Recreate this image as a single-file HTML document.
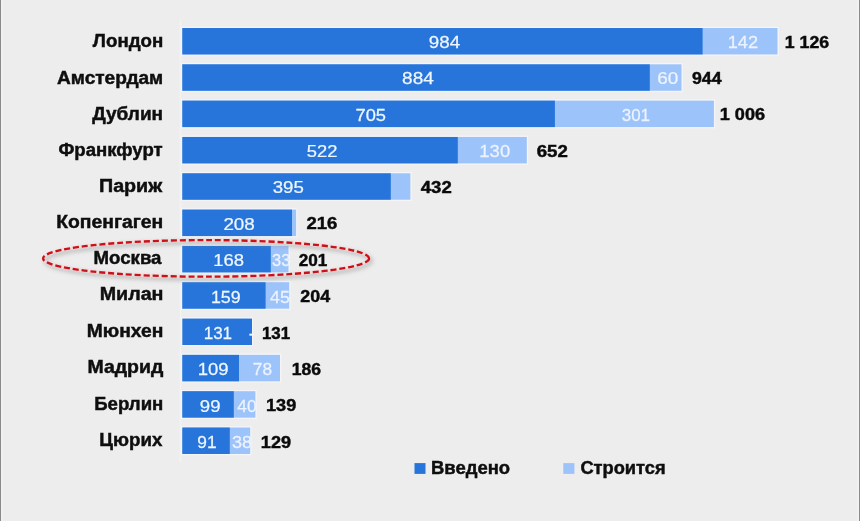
<!DOCTYPE html>
<html lang="ru"><head><meta charset="utf-8"><title>Chart</title>
<style>
html,body{margin:0;padding:0;background:#ededed;}
body{width:860px;height:521px;overflow:hidden;position:relative;}
svg{display:block;position:absolute;left:0;top:0;}
text{font-family:"Liberation Sans",sans-serif;white-space:pre;}
.lab{font-weight:bold;font-size:17.5px;fill:#0e0e0e;stroke:#0e0e0e;stroke-width:0.45px;}
.tot{font-weight:bold;font-size:17.2px;fill:#0a0a0a;word-spacing:0px;stroke:#0a0a0a;stroke-width:0.45px;}
.v1{font-size:17.2px;fill:#eef6ff;stroke:#eef6ff;stroke-width:0.25px;}
.v2{font-size:17.2px;fill:#edf3ff;stroke:#edf3ff;stroke-width:0.25px;}
.leg{font-weight:bold;font-size:17.5px;fill:#0e0e0e;stroke:#0e0e0e;stroke-width:0.45px;}
</style></head><body>
<svg width="860" height="521" viewBox="0 0 860 521">
<defs><filter id="sh" x="-5%" y="-30%" width="110%" height="170%"><feGaussianBlur stdDeviation="2"/></filter></defs>
<rect x="0" y="0" width="860" height="521" fill="#ededed"/>
<rect x="0" y="0" width="2.6" height="521" fill="#f2f2f2"/>
<rect x="0" y="0" width="1" height="521" fill="#8a8a8a"/>
<rect x="857.5" y="0" width="2.5" height="521" fill="#f2f2f2"/>
<rect x="859" y="0" width="1" height="521" fill="#8a8a8a"/>
<rect x="179.6" y="20" width="1.8" height="442" fill="#f2f2f2"/>

<rect x="181.00" y="26.70" width="597.80" height="29.05" fill="#f3f5f9"/>
<rect x="182.30" y="28.00" width="595.20" height="26.45" fill="#9dc3fb"/>
<rect x="182.30" y="28.00" width="520.30" height="26.45" fill="#2775da"/>
<text class="lab" transform="translate(92.87 47.25) scale(1.0682 1)">Лондон</text>
<text class="v1" transform="translate(428.78 47.95) scale(1.0945 1)">984</text>
<text class="v2" transform="translate(727.68 47.95) scale(1.0579 1)">142</text>
<text class="tot" transform="translate(784.73 47.72) scale(1.0323 1)">1 126</text>
<rect x="181.00" y="63.02" width="501.80" height="29.05" fill="#f3f5f9"/>
<rect x="182.30" y="64.32" width="499.20" height="26.45" fill="#9dc3fb"/>
<rect x="182.30" y="64.32" width="467.50" height="26.45" fill="#2775da"/>
<text class="lab" transform="translate(57.03 83.50) scale(1.0909 1)">Амстердам</text>
<text class="v1" transform="translate(402.07 84.31) scale(1.1091 1)">884</text>
<text class="v2" transform="translate(657.17 84.31) scale(1.1042 1)">60</text>
<text class="tot" transform="translate(691.98 84.07) scale(1.0301 1)">944</text>
<rect x="181.00" y="99.34" width="534.20" height="29.05" fill="#f3f5f9"/>
<rect x="182.30" y="100.64" width="531.60" height="26.45" fill="#9dc3fb"/>
<rect x="182.30" y="100.64" width="372.60" height="26.45" fill="#2775da"/>
<text class="lab" transform="translate(92.30 119.80) scale(1.0848 1)">Дублин</text>
<text class="v1" transform="translate(355.50 120.68) scale(1.0642 1)">705</text>
<text class="v2" transform="translate(621.71 120.68) scale(0.9891 1)">301</text>
<text class="tot" transform="translate(719.71 120.42) scale(1.0539 1)">1 006</text>
<rect x="181.00" y="135.66" width="347.10" height="29.05" fill="#f3f5f9"/>
<rect x="182.30" y="136.96" width="344.50" height="26.45" fill="#9dc3fb"/>
<rect x="182.30" y="136.96" width="275.50" height="26.45" fill="#2775da"/>
<text class="lab" transform="translate(58.47 156.00) scale(1.0622 1)">Франкфурт</text>
<text class="v1" transform="translate(306.87 157.05) scale(1.0655 1)">522</text>
<text class="v2" transform="translate(479.36 157.05) scale(1.0741 1)">130</text>
<text class="tot" transform="translate(536.66 156.77) scale(1.0847 1)">652</text>
<rect x="181.00" y="171.98" width="230.70" height="29.05" fill="#f3f5f9"/>
<rect x="182.30" y="173.28" width="228.10" height="26.45" fill="#9dc3fb"/>
<rect x="182.30" y="173.28" width="208.50" height="26.45" fill="#2775da"/>
<text class="lab" transform="translate(98.97 191.90) scale(1.1261 1)">Париж</text>
<text class="v1" transform="translate(272.76 193.41) scale(1.0836 1)">395</text>
<text class="tot" transform="translate(420.80 193.12) scale(1.0796 1)">432</text>
<rect x="181.00" y="208.30" width="116.40" height="29.05" fill="#f3f5f9"/>
<rect x="182.30" y="209.60" width="113.80" height="26.45" fill="#9dc3fb"/>
<rect x="182.30" y="209.60" width="109.70" height="26.45" fill="#2775da"/>
<text class="lab" transform="translate(56.19 228.40) scale(1.1053 1)">Копенгаген</text>
<text class="v1" transform="translate(223.38 229.78) scale(1.0936 1)">208</text>
<text class="tot" transform="translate(306.43 229.47) scale(1.0786 1)">216</text>
<rect x="181.00" y="244.62" width="108.80" height="29.05" fill="#f3f5f9"/>
<rect x="182.30" y="245.92" width="106.20" height="26.45" fill="#9dc3fb"/>
<rect x="182.30" y="245.92" width="88.50" height="26.45" fill="#2775da"/>
<text class="lab" transform="translate(93.53 264.40) scale(1.0656 1)">Москва</text>
<text class="v1" transform="translate(213.16 266.14) scale(1.0729 1)">168</text>
<text class="v2" transform="translate(272.12 266.14) scale(0.9556 1)">33</text>
<text class="tot" transform="translate(298.65 265.82) scale(0.9982 1)">201</text>
<rect x="181.00" y="280.94" width="109.50" height="29.05" fill="#f3f5f9"/>
<rect x="182.30" y="282.24" width="106.90" height="26.45" fill="#9dc3fb"/>
<rect x="182.30" y="282.24" width="83.30" height="26.45" fill="#2775da"/>
<text class="lab" transform="translate(99.68 300.30) scale(1.1233 1)">Милан</text>
<text class="v1" transform="translate(210.91 302.50) scale(1.0355 1)">159</text>
<text class="v2" transform="translate(270.04 302.50) scale(1.0356 1)">45</text>
<text class="tot" transform="translate(300.34 302.17) scale(1.0386 1)">204</text>
<rect x="181.00" y="317.26" width="72.10" height="29.05" fill="#f3f5f9"/>
<rect x="182.30" y="318.56" width="69.70" height="26.45" fill="#2775da"/>
<text class="lab" transform="translate(86.70 336.60) scale(1.0996 1)">Мюнхен</text>
<text class="v1" transform="translate(203.66 338.87) scale(0.9907 1)">131</text>
<text class="v2" transform="translate(248.81 338.87) scale(1.0500 1)">-</text>
<text class="tot" transform="translate(261.96 338.52) scale(0.9838 1)">131</text>
<rect x="181.00" y="353.58" width="100.30" height="29.05" fill="#f3f5f9"/>
<rect x="182.30" y="354.88" width="97.70" height="26.45" fill="#9dc3fb"/>
<rect x="182.30" y="354.88" width="56.70" height="26.45" fill="#2775da"/>
<text class="lab" transform="translate(87.49 372.60) scale(1.1119 1)">Мадрид</text>
<text class="v1" transform="translate(197.65 375.24) scale(1.0766 1)">109</text>
<text class="v2" transform="translate(252.74 375.24) scale(1.0085 1)">78</text>
<text class="tot" transform="translate(291.83 374.87) scale(1.0218 1)">186</text>
<rect x="181.00" y="389.90" width="75.70" height="29.05" fill="#f3f5f9"/>
<rect x="182.30" y="391.20" width="73.10" height="26.45" fill="#9dc3fb"/>
<rect x="182.30" y="391.20" width="51.50" height="26.45" fill="#2775da"/>
<text class="lab" transform="translate(94.24 409.70) scale(1.0635 1)">Берлин</text>
<text class="v1" transform="translate(199.79 411.60) scale(1.0817 1)">99</text>
<text class="v2" transform="translate(237.25 411.60) scale(1.0082 1)">40</text>
<text class="tot" transform="translate(266.01 411.22) scale(1.0545 1)">139</text>
<rect x="181.00" y="426.22" width="70.50" height="29.05" fill="#f3f5f9"/>
<rect x="182.30" y="427.52" width="67.90" height="26.45" fill="#9dc3fb"/>
<rect x="182.30" y="427.52" width="47.50" height="26.45" fill="#2775da"/>
<text class="lab" transform="translate(99.33 445.80) scale(1.0695 1)">Цюрих</text>
<text class="v1" transform="translate(197.34 447.97) scale(1.0085 1)">91</text>
<text class="v2" transform="translate(232.07 447.97) scale(1.0500 1)">38</text>
<text class="tot" transform="translate(260.81 447.57) scale(1.0545 1)">129</text>
<ellipse cx="208.2" cy="260.9" rx="163.0" ry="18.3" fill="none" stroke="#8a8a8a" stroke-opacity="0.6" stroke-width="3" filter="url(#sh)"/>
<ellipse cx="206.1" cy="258.4" rx="163.0" ry="18.3" fill="none" stroke="#f7dcdc" stroke-opacity="0.7" stroke-width="3.2"/>
<ellipse cx="206.1" cy="258.4" rx="163.0" ry="18.3" fill="none" stroke="#cc1018" stroke-width="2.35" stroke-dasharray="6 2.9"/>
<rect x="414.5" y="463.1" width="11" height="10.8" fill="#2775da"/>
<text class="leg" transform="translate(431.05 473.90) scale(1.0544 1)">Введено</text>
<rect x="563.3" y="463.1" width="11.1" height="10.8" fill="#9dc3fb"/>
<text class="leg" transform="translate(580.38 473.90) scale(1.0442 1)">Строится</text>
</svg></body></html>
